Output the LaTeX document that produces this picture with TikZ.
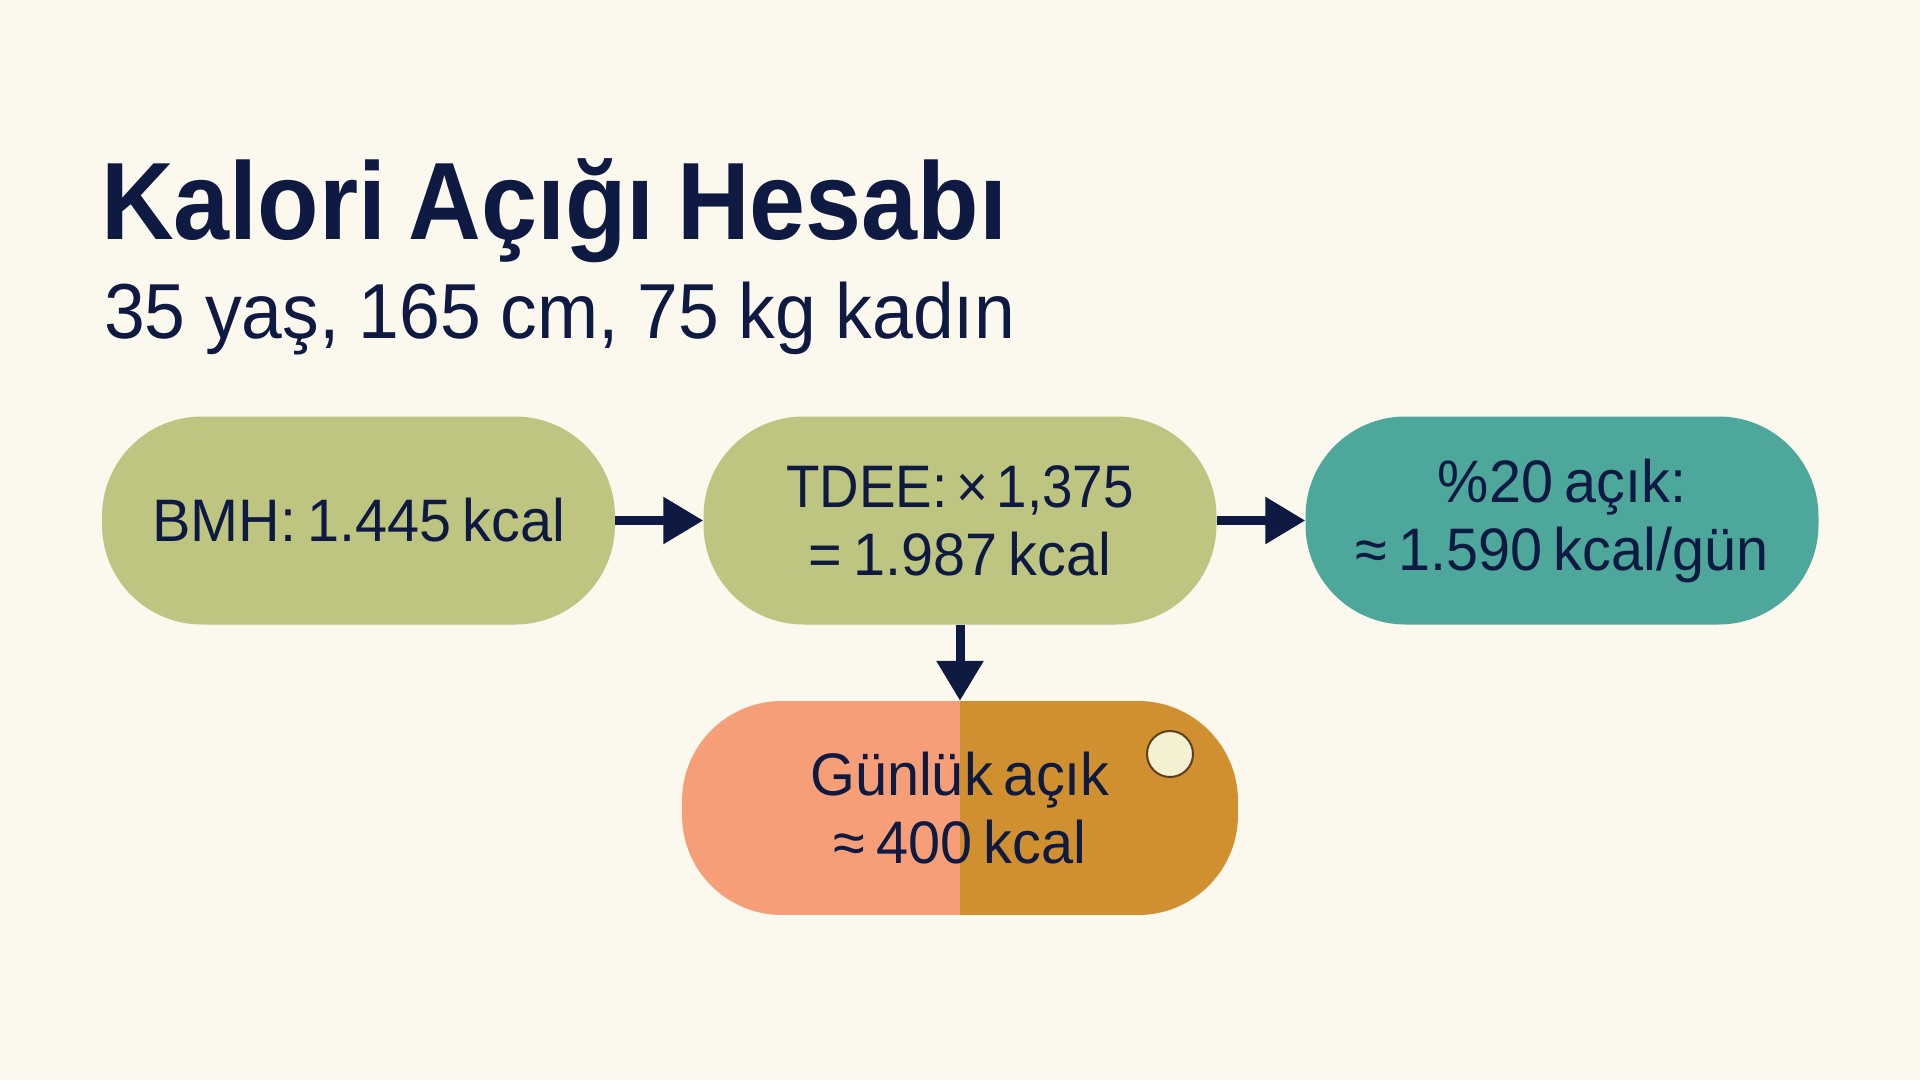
\documentclass[tikz,border=0pt]{standalone}
\usepackage{fontspec}
\usepackage{graphicx}
\usetikzlibrary{arrows.meta}
\setmainfont{Liberation Sans}
\newfontfamily\titlefont[FakeStretch=0.915,WordSpace=0.8]{Liberation Sans}
\newfontfamily\subfont[FakeStretch=0.94,WordSpace=0.95]{Liberation Sans}
\newfontfamily\boxfont[FakeStretch=0.96,WordSpace=0.7]{Liberation Sans}
\definecolor{bgc}{HTML}{FBF8ED}
\definecolor{navy}{HTML}{0E1A42}
\definecolor{olive}{HTML}{BDC581}
\definecolor{tealc}{HTML}{4EA79B}
\definecolor{salmon}{HTML}{F59E78}
\definecolor{ochre}{HTML}{D0902F}
\definecolor{creamc}{HTML}{F6F0D2}
\definecolor{brownc}{HTML}{5A4020}
\tikzset{
  pill/.style={rectangle, rounded corners=100pt, draw=none,
    minimum width=513pt, minimum height=208pt, inner sep=0pt, align=center,
    text=navy, font=\boxfont\fontsize{60}{68}\selectfont},
  flow/.style={draw=navy, line width=9pt, -{Triangle[length=40pt,width=45pt]}}
}
\begin{document}
\begin{tikzpicture}[x=1pt,y=-1pt]
\fill[bgc] (0,0) rectangle (1920,1080);
\useasboundingbox (0,0) rectangle (1920,1080);
\node[anchor=base west, inner sep=0pt, text=navy, font=\titlefont\bfseries\fontsize{110}{120}\selectfont] (title) at (101,239) {Kalori Açığı Hesabı};
\node[anchor=base west, inner sep=0pt, text=navy, font=\subfont\fontsize{78}{90}\selectfont] (sub) at (104,338) {35 yaş, 165 cm, 75 kg kadın};
\node[pill, fill=olive] (bmh) at (358.5,520.5) {BMH: 1.445 kcal};
\node[pill, fill=olive] (tdee) at (960,520.5) {\scalebox{0.95}[1]{TDEE:\hspace{9pt}×\hspace{9pt}1,375}\\= 1.987 kcal};
\node[pill, fill=tealc] (hedef) at (1562,520.5) {\%20 açık:\\≈ 1.590 kcal/gün};
\node[pill, minimum width=556pt, minimum height=214pt,
  path picture={
    \fill[salmon, sharp corners] (path picture bounding box.south west) rectangle (path picture bounding box.north);
    \fill[ochre, sharp corners] (path picture bounding box.north) rectangle (path picture bounding box.south east);
  }] (acik) at (960,808) {Günlük açık\\≈ 400 kcal};
\node[circle, minimum size=46pt, inner sep=0pt, fill=creamc, draw=brownc, line width=2pt] (dot) at (1170,754) {};
\draw[flow] (bmh.east) -- (tdee.west);
\draw[flow] (tdee.east) -- (hedef.west);
\draw[flow] (tdee.south) -- (acik.north);
\end{tikzpicture}
\end{document}
